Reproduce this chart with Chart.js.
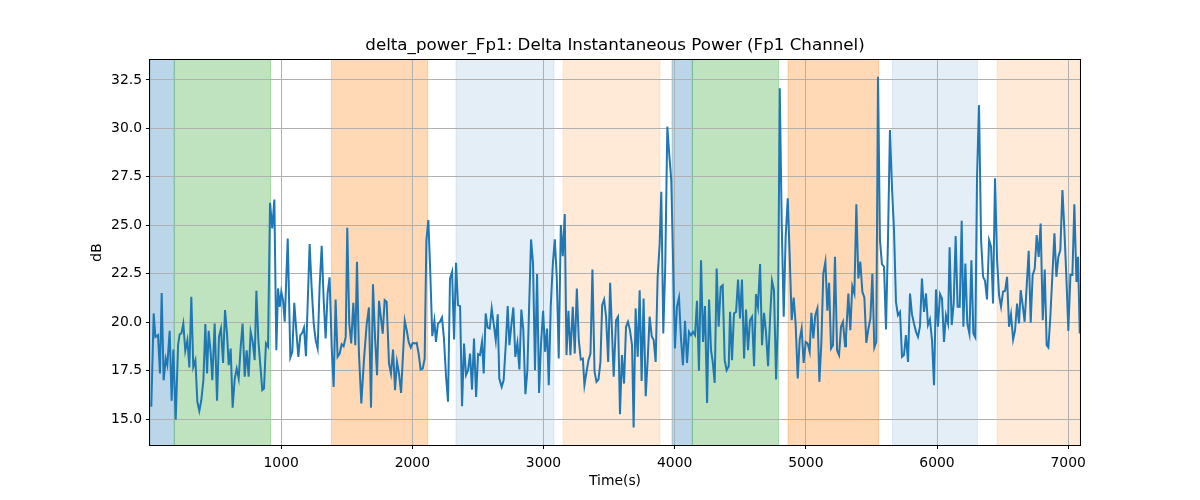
<!DOCTYPE html>
<html>
<head>
<meta charset="utf-8">
<title>delta_power_Fp1</title>
<script src="https://cdn.jsdelivr.net/npm/chart.js@4.4.1/dist/chart.umd.min.js"></script>
<style>
  html, body { margin: 0; padding: 0; background: #fff; }
  #wrap { width: 1200px; height: 500px; }
</style>
</head>
<body>
<div id="wrap"><canvas id="chart" width="1200" height="500"></canvas></div>
<script>
// DATA
const chartTitle = "delta_power_Fp1: Delta Instantaneous Power (Fp1 Channel)";
const xLabel = "Time(s)";
const yLabel = "dB";

const times = [
  10,28,41,61,76,89,104,120,132,150,165,178,196,214,226,239,254,269,285,300,315,330,346,361,376,391,407,422,435,447,
  463,475,493,511,526,541,557,572,587,600,615,630,646,661,676,691,706,722,737,752,767,783,798,811,826,841,856,869,884,
  900,915,932,948,963,976,989,1001,1014,1027,1050,1070,1085,1100,1115,1131,1146,1161,1174,1189,1217,1232,1248,1263,1278,
  1293,1309,1324,1339,1354,1369,1385,1400,1415,1430,1446,1461,1476,1492,1504,1519,1534,1550,1565,1578,1593,1611,1631,1652,
  1669,1685,1700,1716,1731,1746,1774,1789,1804,1822,1837,1853,1868,1883,1898,1914,1942,1957,1972,1988,2003,2018,2033,2048,
  2063,2079,2094,2107,2122,2137,2152,2168,2180,2195,2211,2226,2241,2257,2272,2287,2303,2318,2333,2348,2364,2379,2394,2409,
  2425,2440,2455,2470,2486,2501,2516,2531,2544,2559,2574,2590,2605,2620,2636,2651,2663,2681,2696,2712,2727,2740,2755,2770,
  2785,2801,2816,2831,2846,2862,2877,2890,2905,2920,2935,2951,2966,2981,2997,3012,3027,3040,3055,3071,3086,3101,3116,3132,
  3147,3162,3175,3190,3205,3223,3238,3254,3269,3284,3300,3312,3328,3343,3358,3373,3389,3404,3419,3434,3447,3462,3477,3493,
  3508,3535,3553,3568,3583,3598,3614,3629,3644,3659,3675,3687,3702,3718,3733,3748,3763,3779,3794,3809,3825,3840,3855,3870,
  3885,3898,3913,3928,3944,3959,3974,3990,4002,4017,4033,4048,4063,4079,4094,4109,4124,4140,4155,4170,4185,4201,4216,4231,
  4247,4262,4277,4290,4305,4320,4335,4351,4366,4381,4396,4412,4422,4437,4452,4468,4483,4498,4513,4529,4544,4559,4574,4590,
  4605,4620,4635,4651,4666,4681,4696,4712,4727,4742,4757,4773,4788,4801,4816,4831,4846,4862,4877,4892,4907,4922,4938,4953,
  4968,4983,4999,5014,5029,5042,5057,5072,5088,5103,5118,5133,5149,5164,5177,5192,5207,5222,5238,5253,5268,5283,5299,5306,
  5324,5339,5354,5370,5385,5400,5415,5431,5446,5461,5476,5492,5507,5522,5537,5550,5565,5580,5596,5611,5626,5641,5657,5672,
  5687,5702,5718,5733,5748,5763,5779,5794,5809,5824,5840,5855,5870,5885,5901,5916,5931,5946,5962,5977,5992,6007,6023,6038,
  6053,6068,6084,6096,6112,6127,6142,6157,6173,6188,6201,6216,6231,6247,6262,6277,6292,6305,6320,6336,6351,6366,6381,6397,
  6412,6427,6442,6458,6473,6488,6503,6519,6534,6549,6564,6580,6595,6610,6625,6638,6653,6668,6684,6699,6714,6729,6745,6760,
  6775,6790,6806,6821,6836,6849,6864,6895,6910,6925,6940,6956,6971,6986,7001,7017,7032,7047,7063,7075,7088
];

const powerDb = [
  15.63,20.45,19.24,19.33,17.35,21.51,17.0,18.12,17.78,19.55,15.94,18.59,14.97,18.81,19.38,19.41,19.93,18.52,19.07,17.66,21.31,17.69,18.04,15.89,15.42,15.97,17.0,19.9,17.35,19.55,
  18.38,17.0,19.93,15.94,19.24,19.67,17.9,20.62,19.41,17.78,18.64,15.59,17.09,17.6,17.09,18.69,19.93,17.18,18.55,17.18,19.5,18.98,18.04,21.62,19.07,17.78,16.49,16.57,18.9,
  18.73,26.16,24.84,26.33,18.55,21.74,20.79,21.57,21.14,20.02,24.32,18.18,18.47,21.0,19.59,18.21,19.33,19.45,19.72,18.24,24.03,21.82,19.93,19.07,18.64,
  21.82,23.94,21.14,19.16,21.48,22.31,18.73,16.66,21.17,18.21,18.38,18.86,18.76,19.24,24.87,19.93,18.9,21.0,18.81,23.12,18.38,15.8,18.04,19.9,
  20.76,15.59,21.96,19.16,17.26,21.1,19.41,21.14,21.05,17.87,17.35,18.59,16.49,17.95,17.35,16.35,20.07,19.59,18.98,18.69,18.93,18.9,18.93,18.38,
  17.56,17.61,18.12,24.23,25.27,22.51,19.28,20.07,18.98,19.93,20.02,20.24,19.16,17.18,15.89,22.25,22.6,19.1,23.06,20.88,20.83,15.66,18.9,17.26,
  17.52,18.38,16.52,19.16,16.14,18.35,18.3,18.98,17.35,20.45,19.72,19.67,20.71,19.93,19.07,20.41,17.09,16.66,17.0,18.81,20.83,18.81,19.85,20.76,
  18.21,18.93,17.56,20.65,19.59,16.28,17.52,20.71,24.27,23.03,17.52,22.48,16.35,18.9,20.59,18.47,19.67,16.75,20.79,23.0,24.27,22.34,18.12,25.01,
  23.41,25.58,18.3,20.59,18.3,20.79,18.38,21.74,19.07,18.07,18.12,16.75,17.44,18.04,18.38,22.72,17.44,16.92,17.04,17.95,20.88,21.17,20.28,17.95,
  22.03,17.18,20.1,20.28,15.25,18.3,16.83,19.76,20.02,19.59,18.81,14.56,20.71,18.21,21.65,16.97,21.22,16.18,18.04,20.28,19.28,19.07,17.95,22.34,
  23.98,26.73,19.41,22.86,30.09,28.62,27.33,22.51,18.64,20.79,21.27,19.16,17.78,20.07,17.9,19.5,19.33,19.5,19.33,21.1,17.49,23.2,18.98,20.83,
  15.83,21.17,18.55,17.95,16.87,22.77,19.76,21.82,21.91,18.04,17.52,17.73,20.53,18.04,20.45,20.53,22.2,20.19,22.2,18.12,20.65,18.55,20.1,20.28,
  17.73,21.45,20.79,23.0,18.81,20.48,19.5,17.73,20.19,22.13,21.65,17.04,20.28,32.07,25.09,20.28,24.41,26.39,23.37,20.1,21.27,19.93,17.09,19.1,
  19.67,17.9,18.98,18.9,18.47,20.48,19.16,20.36,20.71,16.92,18.9,22.51,23.12,20.59,22.03,18.64,18.81,23.37,18.55,18.3,19.76,20.02,18.76,19.24,
  21.48,19.59,21.86,21.48,26.09,22.25,23.12,21.57,21.27,18.93,19.62,20.19,22.51,18.69,18.98,32.67,24.23,23.0,22.86,19.62,24.23,29.91,26.9,24.75,
  21.05,20.36,20.53,18.21,18.3,19.33,17.95,21.48,20.41,19.93,19.5,19.24,19.79,22.25,20.53,21.48,19.85,20.14,19.04,16.75,21.69,19.76,21.45,21.22,
  18.98,20.36,19.93,23.86,19.85,20.96,24.44,20.79,20.79,25.23,19.76,23.03,19.93,19.41,23.2,19.41,19.21,27.5,31.2,24.23,22.34,22.13,21.17,24.23,
  23.89,20.96,27.42,23.2,21.39,20.79,21.57,21.62,22.34,19.76,20.41,19.1,19.59,20.96,19.93,21.65,20.88,20.02,21.91,23.68,19.97,22.43,22.77,24.49,
  23.37,25.09,20.1,22.72,18.81,18.69,20.28,24.58,22.34,23.37,23.72,26.82,24.75,22.34,19.55,22.43,22.43,26.09,22.08,23.37,19.41
];

// shaded phases: start, end, kind
const bandStart = [0, 185, 1383, 2333, 3149, 3980, 4135, 4864, 5660, 6458];
const bandEnd   = [185, 920, 2117, 3080, 3888, 4135, 4793, 5555, 6308, 7090];
const bandKind  = ["blue", "green", "orange", "paleBlue", "paleOrange", "blue", "green", "orange", "paleBlue", "paleOrange"];

const xTicks = [1000, 2000, 3000, 4000, 5000, 6000, 7000];
const yTicks = [15, 17.5, 20, 22.5, 25, 27.5, 30, 32.5];

// STYLES
const bandColors = {
  blue: "rgba(31,119,180,0.3)",
  green: "rgba(44,160,44,0.3)",
  orange: "rgba(255,127,14,0.3)",
  paleBlue: "rgba(31,119,180,0.12)",
  paleOrange: "rgba(255,127,14,0.16)"
};
const FONT = "'DejaVu Sans', sans-serif";
const plotBox = { left: 150, right: 1080, top: 60, bottom: 445 };

const points = times.map((t, i) => ({ x: t, y: powerDb[i] }));

// PLUGIN: spans under the grid, frame + titles on top
const decorations = {
  id: "decorations",
  beforeDraw(chart) {
    const ctx = chart.ctx;
    const xs = chart.scales.x;
    const area = chart.chartArea;
    ctx.save();
    ctx.beginPath();
    ctx.rect(area.left, area.top, area.right - area.left, area.bottom - area.top);
    ctx.clip();
    bandStart.forEach((s, i) => {
      const x0 = xs.getPixelForValue(s);
      const x1 = xs.getPixelForValue(bandEnd[i]);
      ctx.fillStyle = bandColors[bandKind[i]];
      ctx.fillRect(x0, area.top, x1 - x0, area.bottom - area.top);
      ctx.strokeStyle = bandColors[bandKind[i]];
      ctx.lineWidth = 1;
      ctx.beginPath();
      ctx.moveTo(x0, area.top); ctx.lineTo(x0, area.bottom);
      ctx.moveTo(x1, area.top); ctx.lineTo(x1, area.bottom);
      ctx.stroke();
    });
    ctx.restore();
  },
  afterDraw(chart) {
    const ctx = chart.ctx;
    const a = chart.chartArea;
    ctx.save();
    ctx.strokeStyle = "#000";
    ctx.lineWidth = 1;
    ctx.strokeRect(Math.round(a.left) - 0.5, Math.round(a.top) - 0.5, a.right - a.left + 1, a.bottom - a.top + 1);

    ctx.fillStyle = "#000";
    ctx.textAlign = "center";
    ctx.textBaseline = "middle";
    ctx.font = "16.7px " + FONT;
    ctx.fillText(chartTitle, (a.left + a.right) / 2, 46);

    ctx.font = "13.9px " + FONT;
    ctx.fillText(xLabel, (a.left + a.right) / 2, 481);

    ctx.translate(97, (a.top + a.bottom) / 2);
    ctx.rotate(-Math.PI / 2);
    ctx.fillText(yLabel, 0, 0);
    ctx.restore();
  }
};

new Chart(document.getElementById("chart"), {
  type: "line",
  data: {
    datasets: [{
      data: points,
      borderColor: "#1f77b4",
      borderWidth: 2,
      pointRadius: 0,
      tension: 0,
      fill: false
    }]
  },
  options: {
    responsive: false,
    animation: false,
    devicePixelRatio: 1,
    layout: { padding: { left: 0, top: plotBox.top, right: 1200 - plotBox.right, bottom: 0 } },
    plugins: { legend: { display: false }, tooltip: { enabled: false }, title: { display: false } },
    scales: {
      x: {
        type: "linear",
        min: 0,
        max: 7090,
        afterBuildTicks(scale) { scale.ticks = xTicks.map(v => ({ value: v })); },
        afterFit(scale) { scale.height = 500 - plotBox.bottom; },
        ticks: { color: "#000", font: { family: FONT, size: 13.9 }, padding: 6, maxRotation: 0, autoSkip: false,
                 callback: v => String(v) },
        grid: { color: "#b0b0b0", lineWidth: 1, tickColor: "#000", tickLength: 4 },
        border: { display: false }
      },
      y: {
        min: 13.66,
        max: 33.53,
        afterBuildTicks(scale) { scale.ticks = yTicks.map(v => ({ value: v })); },
        afterFit(scale) { scale.width = plotBox.left; },
        ticks: { color: "#000", font: { family: FONT, size: 13.9 }, padding: 4, autoSkip: false,
                 callback: v => v.toFixed(1) },
        grid: { color: "#b0b0b0", lineWidth: 1, tickColor: "#000", tickLength: 4 },
        border: { display: false }
      }
    }
  },
  plugins: [decorations]
});
</script>
</body>
</html>
